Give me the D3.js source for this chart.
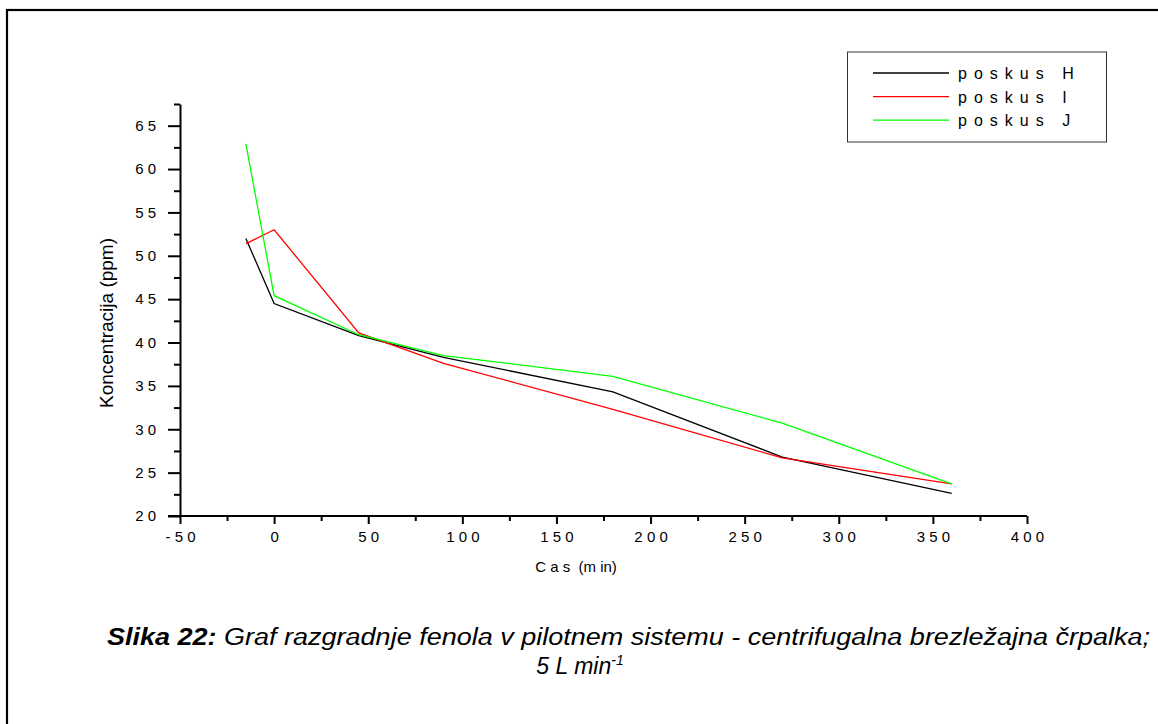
<!DOCTYPE html>
<html>
<head>
<meta charset="utf-8">
<script src="https://cdn.jsdelivr.net/npm/d3@7"></script>
<style>
  body { margin: 0; background: #fff; }
  svg { display: block; font-family: Arial, "Liberation Sans", sans-serif; }
</style>
</head>
<body>
<div id="chart"></div>
<script>
// cas v minutah
var casMin = [-15, 0, 45, 90, 180, 270, 360];

var poskusH = [52.0, 44.5, 40.8, 38.3, 34.3, 26.8, 22.6];
var poskusI = [51.4, 53.0, 41.1, 37.6, 32.3, 26.7, 23.7];
var poskusJ = [62.9, 45.4, 40.9, 38.5, 36.1, 30.7, 23.7];

var seriesNames = ['poskus H', 'poskus I', 'poskus J'];
var seriesColors = ['#000000', '#ff0000', '#00ff00'];

var xTicks = [-50, 0, 50, 100, 150, 200, 250, 300, 350, 400];
var xMinorTicks = [-25, 25, 75, 125, 175, 225, 275, 325, 375];
var yTicks = [20, 25, 30, 35, 40, 45, 50, 55, 60, 65];
var yMinorTicks = [22.5, 27.5, 32.5, 37.5, 42.5, 47.5, 52.5, 57.5, 62.5, 67.5];

function ready() {
  var W = 1158, H = 724;

  var svg = d3.select('#chart').append('svg')
              .attr('width', W)
              .attr('height', H);

  // okvir
  svg.append('rect')
     .attr('x', 7).attr('y', 10)
     .attr('width', W + 10).attr('height', H + 10)
     .attr('fill', 'none')
     .attr('stroke', '#000')
     .attr('stroke-width', 2.2);

  var x = d3.scaleLinear().domain([-50, 400]).range([180, 1027]);
  var y = d3.scaleLinear().domain([20, 67.5]).range([516, 104]);

  var spaced = function(d) { return String(d).split('').join(' '); };

  // minor ticks first
  svg.append('g')
     .attr('transform', 'translate(0,516)')
     .call(d3.axisBottom(x).tickValues(xMinorTicks).tickSize(5).tickFormat(''))
     .call(function(g) { g.select('.domain').remove(); });

  svg.append('g')
     .attr('transform', 'translate(180,0)')
     .call(d3.axisLeft(y).tickValues(yMinorTicks).tickSize(6).tickFormat(''))
     .call(function(g) { g.select('.domain').remove(); });

  var xAxis = svg.append('g')
     .attr('transform', 'translate(0,516)')
     .call(d3.axisBottom(x).tickValues(xTicks).tickSize(8).tickSizeOuter(0).tickPadding(7).tickFormat(spaced));

  var yAxis = svg.append('g')
     .attr('transform', 'translate(180,0)')
     .call(d3.axisLeft(y).tickValues(yTicks).tickSize(12).tickSizeOuter(0).tickPadding(12).tickFormat(spaced));

  svg.selectAll('.tick line, .domain')
     .attr('stroke', '#000')
     .attr('stroke-width', 2);

  svg.selectAll('.tick text')
     .attr('fill', '#000')
     .style('font-size', '15px')
     .style('font-family', 'Arial, "Liberation Sans", sans-serif');

  // x-domain extends to the left so the 20 tick meets it
  xAxis.select('.domain').attr('d', 'M168,0H' + x(400));

  // osni napisi
  svg.append('text')
     .attr('x', 576).attr('y', 572)
     .attr('text-anchor', 'middle')
     .style('font-size', '15px')
     .style('white-space', 'pre')
     .text('C a s  (m in)');

  svg.append('text')
     .attr('transform', 'translate(113,323) rotate(-90)')
     .attr('text-anchor', 'middle')
     .style('font-size', '19px')
     .text('Koncentracija (ppm)');

  // crte
  var allSeries = [poskusH, poskusI, poskusJ];
  var line = d3.line()
               .x(function(d, i) { return x(casMin[i]); })
               .y(function(d) { return y(d); });

  allSeries.forEach(function(vals, k) {
    svg.append('path')
       .datum(vals)
       .attr('d', line)
       .attr('fill', 'none')
       .attr('stroke', seriesColors[k])
       .attr('stroke-width', 1.3);
  });

  // legenda
  var legend = svg.append('g');
  legend.append('rect')
        .attr('x', 847.5).attr('y', 52)
        .attr('width', 259).attr('height', 90)
        .attr('fill', '#fff')
        .attr('stroke', '#333')
        .attr('stroke-width', 1);

  seriesNames.forEach(function(name, k) {
    var ly = 73 + k * 23.6;
    legend.append('line')
          .attr('x1', 873).attr('x2', 949)
          .attr('y1', ly).attr('y2', ly)
          .attr('stroke', seriesColors[k])
          .attr('stroke-width', 1.3);
    legend.append('text')
          .attr('x', 958).attr('y', ly + 6)
          .style('font-size', '16px')
          .style('letter-spacing', '7px')
          .text(name);
  });

  // podnapis
  var cap = svg.append('text')
               .attr('x', 107).attr('y', 645)
               .attr('textLength', 1043)
               .attr('lengthAdjust', 'spacingAndGlyphs')
               .style('font-size', '23px')
               .style('font-style', 'italic');
  cap.append('tspan').style('font-weight', 'bold').text('Slika 22:');
  cap.append('tspan').text(' Graf razgradnje fenola v pilotnem sistemu - centrifugalna brezležajna črpalka;');

  var cap2 = svg.append('text')
                .attr('x', 580).attr('y', 674)
                .attr('text-anchor', 'middle')
                .style('font-size', '23px')
                .style('font-style', 'italic');
  cap2.append('tspan').text('5 L min');
  cap2.append('tspan').attr('dy', -9).style('font-size', '14px').text('-1');
}

ready();
</script>
</body>
</html>
